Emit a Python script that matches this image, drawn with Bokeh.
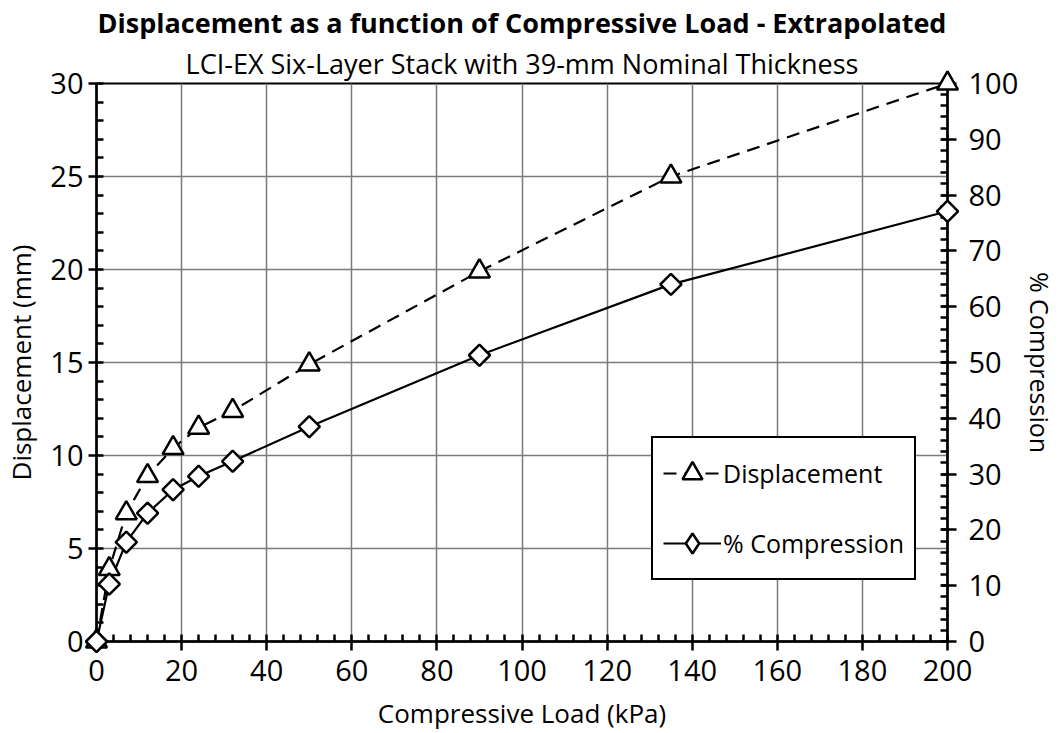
from bokeh.plotting import figure
from bokeh.models import (Range1d, LinearAxis, Title, Legend, LegendItem, FixedTicker,
                          ColumnDataSource)
from bokeh.embed import file_html
from bokeh.resources import INLINE

# ---- data ----
load_kpa = [0, 3, 7, 12, 18, 24, 32, 50, 90, 135, 200]
displacement_mm = [0, 3.9, 6.9, 8.9, 10.4, 11.5, 12.4, 14.9, 19.9, 25.0, 30.0]
compression_pct = [0, 10.3, 17.8, 23.0, 27.2, 29.6, 32.3, 38.5, 51.3, 64.0, 77.1]

x_ticks = [0, 20, 40, 60, 80, 100, 120, 140, 160, 180, 200]
y_ticks = [0, 5, 10, 15, 20, 25, 30]
y2_ticks = [0, 10, 20, 30, 40, 50, 60, 70, 80, 90, 100]

title_text = "Displacement as a function of Compressive Load - Extrapolated"
subtitle_text = "LCI-EX Six-Layer Stack with 39-mm Nominal Thickness"
series_names = ["Displacement", "% Compression"]

FONT = "Open Sans"

src = ColumnDataSource(dict(x=load_kpa, d=displacement_mm, c=compression_pct))

p = figure(width=1060, height=733, output_backend="svg", toolbar_location=None,
           x_range=Range1d(0, 200), y_range=Range1d(0, 30),
           min_border_left=96, min_border_right=109, min_border_top=83,
           min_border_bottom=92)
p.extra_y_ranges = {"pct": Range1d(0, 100)}

sub = Title(text=subtitle_text, align="center", text_font=FONT,
            text_font_size="27px", text_font_style="normal", text_color="black",
            standoff=4)
ttl = Title(text=title_text, align="center", text_font=FONT,
            text_font_size="27px", text_font_style="bold", text_color="black",
            standoff=0)
p.add_layout(sub, "above")
p.add_layout(ttl, "above")

p.outline_line_color = "black"
p.outline_line_width = 2
p.background_fill_color = "white"
p.border_fill_color = "white"

# axes
xa = p.xaxis[0]
xa.ticker = FixedTicker(ticks=x_ticks, minor_ticks=list(range(0, 201, 4)))
ya = p.yaxis[0]
ya.ticker = FixedTicker(ticks=y_ticks, minor_ticks=list(range(0, 31)))

y2 = LinearAxis(y_range_name="pct", axis_label="% Compression",
                ticker=FixedTicker(ticks=y2_ticks, minor_ticks=list(range(0, 101, 2))))
p.add_layout(y2, "right")

xa.axis_label = "Compressive Load (kPa)"
ya.axis_label = "Displacement (mm)"

for ax in (xa, ya, y2):
    ax.axis_line_color = "black"
    ax.axis_line_width = 2.5
    ax.major_tick_line_color = "black"
    ax.major_tick_line_width = 2.5
    ax.minor_tick_line_color = "black"
    ax.minor_tick_line_width = 2.5
    ax.major_label_text_font = FONT
    ax.major_label_text_font_size = "29px"
    ax.major_label_text_color = "black"
    ax.axis_label_text_font = FONT
    ax.axis_label_text_font_size = "26px"
    ax.axis_label_text_font_style = "normal"
    ax.axis_label_text_color = "black"

y2.axis_label_text_font_size = "25px"

xa.major_tick_in = 0
xa.major_tick_out = 9
xa.minor_tick_in = 7
xa.minor_tick_out = 0
xa.major_label_standoff = 9
xa.axis_label_standoff = 11

ya.major_tick_in = 0
ya.major_tick_out = 8
ya.minor_tick_in = 7
ya.minor_tick_out = 0
ya.major_label_standoff = 5
ya.axis_label_standoff = 8

y2.major_tick_in = 6
y2.major_tick_out = 9
y2.minor_tick_in = 7
y2.minor_tick_out = 0
y2.major_label_standoff = 12
y2.axis_label_standoff = 2

# grid
p.xgrid.ticker = FixedTicker(ticks=x_ticks)
p.ygrid.ticker = FixedTicker(ticks=y_ticks)
for g in (p.xgrid[0], p.ygrid[0]):
    g.grid_line_color = "#7a7a7a"
    g.grid_line_width = 1.5
    g.grid_line_alpha = 1.0

# series
l1 = p.line("x", "d", source=src, line_color="black", line_width=2.2,
            line_dash="13 8")
m1 = p.scatter("x", "d", source=src, marker="triangle", size=21,
               fill_color="white", line_color="black", line_width=2.5,
               level="overlay")
l2 = p.line("x", "c", source=src, y_range_name="pct", line_color="black",
            line_width=2.2)
m2 = p.scatter("x", "c", source=src, y_range_name="pct", marker="square",
               angle=0.7854, size=15, fill_color="white", line_color="black",
               line_width=2.5, level="overlay")
# hidden diamond renderer used only for the legend key
key2 = p.scatter("x", "c", source=src, y_range_name="pct", marker="diamond",
                 size=20, fill_color="white", line_color="black", line_width=2.5,
                 visible=False)

legend = Legend(items=[LegendItem(label=series_names[0], renderers=[l1, m1]),
                       LegendItem(label=series_names[1], renderers=[l2, key2])],
                location=(555, 61))
legend.label_text_font = FONT
legend.label_text_font_size = "25px"
legend.label_text_color = "black"
legend.border_line_color = "black"
legend.border_line_alpha = 1.0
legend.border_line_width = 2.5
legend.background_fill_color = "white"
legend.background_fill_alpha = 1.0
legend.glyph_width = 58
legend.glyph_height = 50
legend.spacing = 20
legend.padding = 10
legend.margin = 0
legend.label_standoff = 2
p.add_layout(legend, "center")

open("out.html", "w").write(file_html(p, INLINE))
